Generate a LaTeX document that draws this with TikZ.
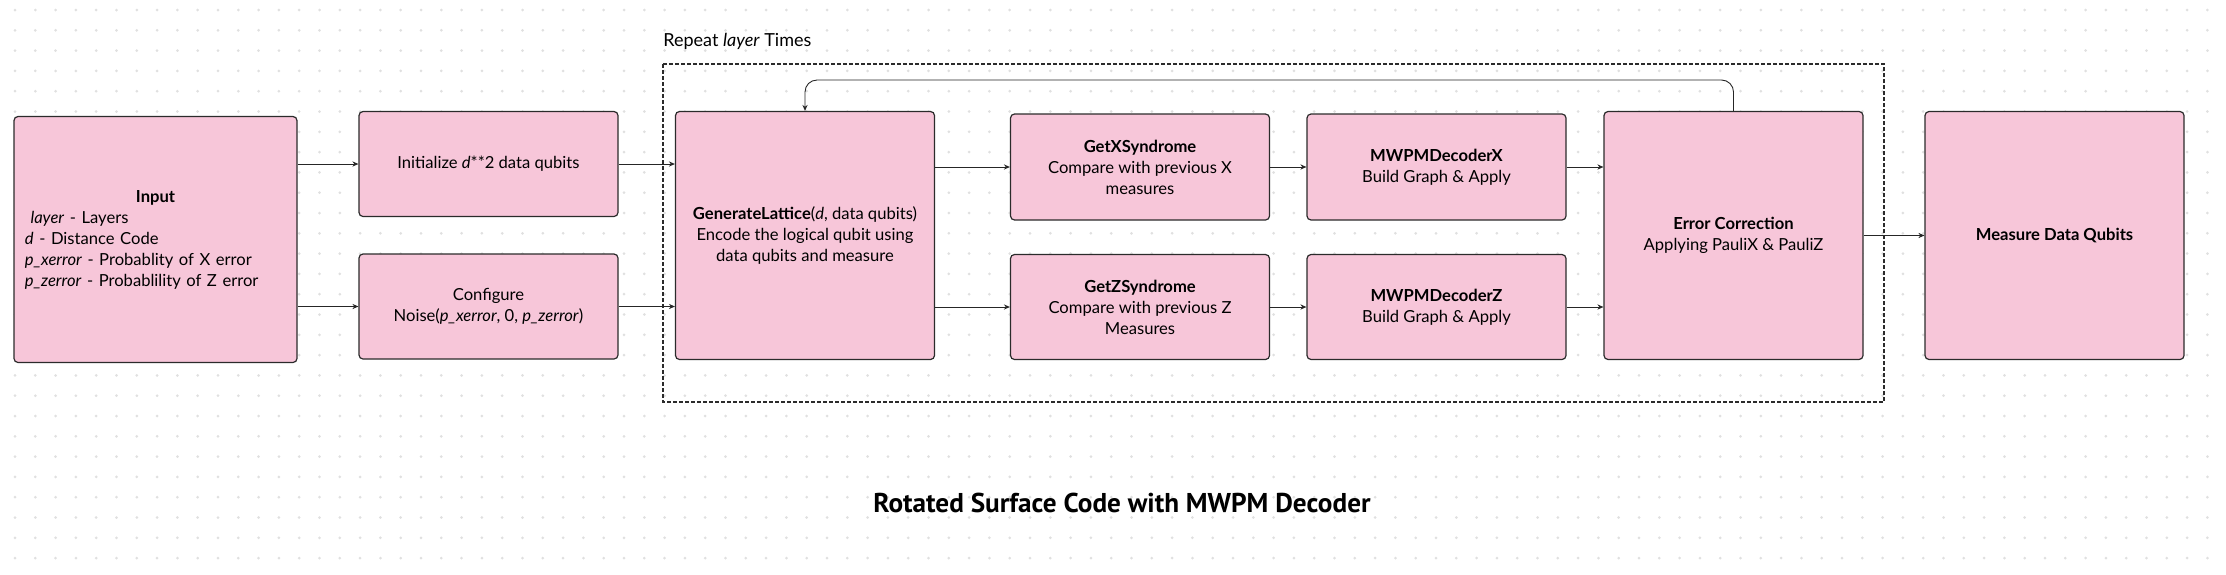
\documentclass[tikz,border=0pt]{standalone}
\usepackage{fontspec}
\setmainfont{Lato}
\newfontfamily\titlefont{PT Sans}
\usetikzlibrary{arrows.meta,calc}
\definecolor{boxpink}{HTML}{F7C6D9}
\definecolor{boxline}{HTML}{2B2B2B}
\definecolor{griddot}{HTML}{E0E0E0}

\begin{document}
\begin{tikzpicture}[x=0.5pt,y=-0.5pt,
    main box/.style={rectangle,rounded corners=2pt,fill=boxpink,draw=boxline,line width=0.6pt,
                     inner sep=0pt,align=center,font=\fontsize{8.3}{10.5}\selectfont},
    small box/.style={main box,minimum width=129.5pt,minimum height=52.5pt},
    tall box/.style={main box,minimum width=129.5pt,minimum height=124pt},
    link/.style={-{Stealth[length=3pt,width=2.6pt]},line width=0.45pt,draw=black!85}
  ]
  \useasboundingbox (0,0) rectangle (2226,574);

  % dotted canvas
  \foreach \i in {0,...,108}
    \foreach \j in {0,...,27}
      \fill[griddot] (15+20.3*\i,10+20.3*\j) circle (0.75pt);

  % repeat frame
  \draw[boxline,line width=0.7pt,dash pattern=on 2pt off 1pt] (663,64) rectangle (1884,402);
  \node[anchor=base west,inner sep=0pt,font=\fontsize{9}{11}\selectfont] (repeat) at (663,46) {Repeat \textit{layer} Times};

  \node[main box,minimum width=141.5pt,minimum height=123pt,text width=130.5pt,align=left] (input) at (155.5,239.5)
    {\hfill\textbf{Input}\hfill\null\\
     \ \textit{layer} - Layers\\
     \textit{d} - Distance Code\\
     \textit{p\_xerror} - Probablity of X error\\
     \textit{p\_zerror} - Probablility of Z error};
  \node[small box] (init) at (488.5,164) {Initialize \textit{d}**2 data qubits};
  \node[small box] (noise) at (488.5,306.5) {Configure\\ Noise(\textit{p\_xerror}, 0, \textit{p\_zerror})};
  \node[tall box] (lattice) at (805,235.5)
    {\textbf{GenerateLattice}(\textit{d}, data qubits)\\ Encode the logical qubit using\\ data qubits and measure};
  \node[small box,minimum height=53pt] (xsyn) at (1140,167) {\textbf{GetXSyndrome}\\ Compare with previous X\\ measures};
  \node[small box] (zsyn) at (1140,307) {\textbf{GetZSyndrome}\\ Compare with previous Z\\ Measures};
  \node[small box,minimum height=53pt] (xdec) at (1436.5,167) {\textbf{MWPMDecoderX}\\ Build Graph \& Apply};
  \node[small box] (zdec) at (1436.5,307) {\textbf{MWPMDecoderZ}\\ Build Graph \& Apply};
  \node[tall box] (correct) at (1733.5,235.5) {\textbf{Error Correction}\\ Applying PauliX \& PauliZ};
  \node[tall box] (measure) at (2054.5,235.5) {\textbf{Measure Data Qubits}};

  \node[font=\titlefont\bfseries\fontsize{13.6}{16}\selectfont] (title) at (1122,503) {Rotated Surface Code with MWPM Decoder};

  \coordinate (back) at (1270,80);

  \path%
      (input.east |- init.west) edge [link] (init.west)
      (input.east |- noise.west) edge [link] (noise.west)
      (init.east) edge [link] (init.east -| lattice.west)
      (noise.east) edge [link] (noise.east -| lattice.west)
      (lattice.east |- xsyn.west) edge [link] (xsyn.west)
      (lattice.east |- zsyn.west) edge [link] (zsyn.west)
      (xsyn) edge [link] (xdec)
      (zsyn) edge [link] (zdec)
      (xdec.east) edge [link] (xdec.east -| correct.west)
      (zdec.east) edge [link] (zdec.east -| correct.west)
      (correct) edge [link] (measure);
  \draw[link,rounded corners=6pt] (correct.north) -- (correct.north |- back) -- (lattice.north |- back) -- (lattice.north);
\end{tikzpicture}
\end{document}
